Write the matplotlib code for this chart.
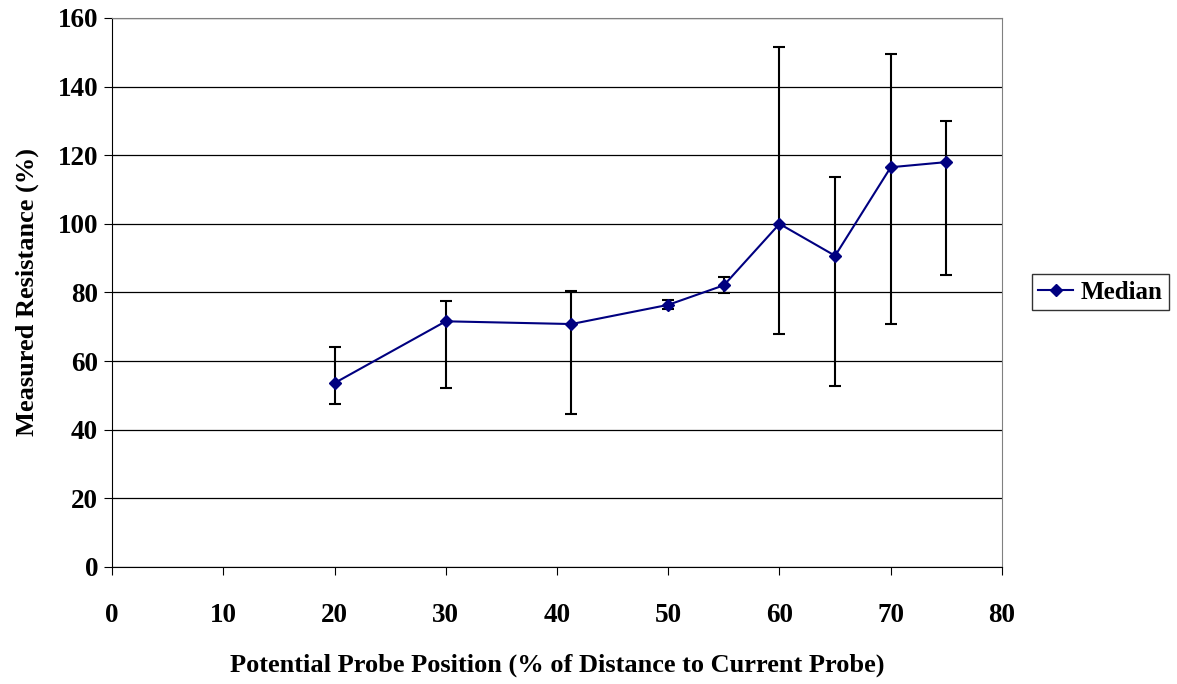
import matplotlib.pyplot as plt

plt.rcParams['font.family'] = ['Liberation Serif', 'DejaVu Serif']
plt.rcParams['font.weight'] = 'bold'

# data
position = [20, 30, 41.3, 50, 55, 60, 65, 70, 75]
median = [53.6, 71.6, 70.8, 76.4, 82.1, 100.0, 90.7, 116.5, 118.0]
upper = [64.1, 77.6, 80.5, 77.8, 84.4, 151.6, 113.7, 149.6, 130.0]
lower = [47.5, 52.2, 44.6, 75.2, 79.8, 67.9, 52.8, 70.8, 85.1]

err_low = [m - l for m, l in zip(median, lower)]
err_high = [u - m for m, u in zip(median, upper)]

fig = plt.figure(figsize=(11.77, 6.84), dpi=100)
ax = fig.add_axes([0.0952, 0.1711, 0.7561, 0.8026])

ax.errorbar(position, median, yerr=[err_low, err_high], fmt='none',
            ecolor='black', elinewidth=1.5, capsize=4.5, capthick=1.5, zorder=2)
ax.plot(position, median, color='#000080', marker='D', markersize=6.5,
        linewidth=1.5, label='Median', zorder=3)

ax.set_xlim(0, 80)
ax.set_ylim(0, 160)
ax.set_xticks(range(0, 81, 10))
ax.set_yticks(range(0, 161, 20))
ax.yaxis.grid(True, color='black', linewidth=0.9)
ax.set_axisbelow(True)

ax.tick_params(axis='x', direction='out', length=6, pad=20, labelsize=19.5)
ax.tick_params(axis='y', direction='out', length=6, pad=4, labelsize=19.5)
for lab in ax.get_xticklabels() + ax.get_yticklabels():
    lab.set_fontweight('bold')

for s in ['top', 'right']:
    ax.spines[s].set_color('#808080')
ax.spines['left'].set_color('black')
ax.spines['bottom'].set_color('black')

ax.set_xlabel('Potential Probe Position (% of Distance to Current Probe)',
              fontsize=19, fontweight='bold', labelpad=18)
ax.set_ylabel('Measured Resistance (%)', fontsize=19, fontweight='bold',
              labelpad=13)

leg = fig.legend(loc='center left', bbox_to_anchor=(0.877, 0.573),
                 fontsize=18, frameon=True, fancybox=False, handlelength=1.4,
                 borderpad=0.25, handletextpad=0.3, borderaxespad=0)
leg.get_frame().set_edgecolor('black')
leg.get_frame().set_linewidth(1)
for t in leg.get_texts():
    t.set_fontweight('bold')

fig.savefig('out.png', dpi=100)
